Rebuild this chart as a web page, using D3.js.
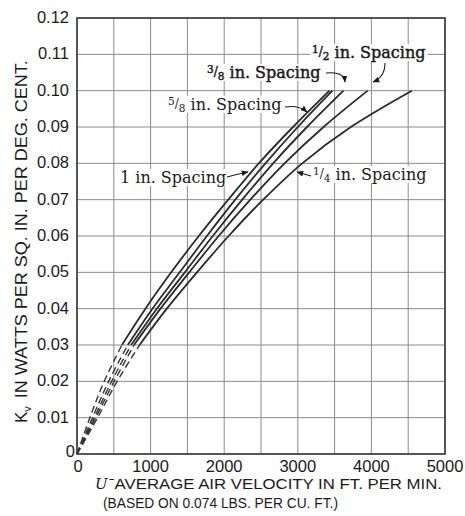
<!DOCTYPE html>
<html><head><meta charset="utf-8">
<script src="https://cdn.jsdelivr.net/npm/d3@7"></script>
<style>body{margin:0;background:#fff}svg{display:block}</style>
</head><body>
<svg id="c" width="465" height="516"></svg>
<script>
// ---- data ----
const kLevels = [0, 0.01, 0.02, 0.03, 0.04, 0.05, 0.06, 0.07, 0.08, 0.09, 0.10];
const vel1in  = [0, 175, 370, 610, 930, 1280, 1655, 2055, 2470, 2935, 3430];
const vel5_8  = [0, 210, 430, 690, 1025, 1395, 1765, 2150, 2560, 3000, 3470];
const vel3_8  = [0, 235, 470, 735, 1085, 1465, 1845, 2245, 2665, 3125, 3620];
const vel1_2  = [0, 255, 505, 775, 1135, 1525, 1925, 2355, 2820, 3350, 3950];
const vel1_4  = [0, 280, 545, 850, 1220, 1630, 2060, 2530, 3060, 3720, 4550];
const dashedUpTo = 0.03;
const xTickValues = [0, 1000, 2000, 3000, 4000, 5000];
const yTickValues = [0, 0.01, 0.02, 0.03, 0.04, 0.05, 0.06, 0.07, 0.08, 0.09, 0.10, 0.11, 0.12];
const yTickLabels = ["0", "0.01", "0.02", "0.03", "0.04", "0.05", "0.06", "0.07", "0.08", "0.09", "0.10", "0.11", "0.12"];
const seriesNames = ["1 in.", "5/8 in.", "3/8 in.", "1/2 in.", "1/4 in."];
const xTitle1 = "ˉAVERAGE AIR VELOCITY IN FT. PER MIN.";
const xTitle2 = "(BASED ON 0.074 LBS. PER CU. FT.)";
const yTitle = "IN WATTS PER SQ. IN. PER DEG. CENT.";

const svg = d3.select("#c");
const x = d3.scaleLinear().domain([0, 5000]).range([77, 445]);
const y = d3.scaleLinear().domain([0, 0.12]).range([454, 18]);

// grid
const grid = svg.append("g");
grid.selectAll("line.v").data(d3.range(0, 5001, 500)).enter().append("line")
  .attr("x1", d => x(d)).attr("x2", d => x(d)).attr("y1", y(0)).attr("y2", y(0.12))
  .attr("stroke", "#8a8a8a").attr("stroke-width", 1);
grid.selectAll("line.h").data(d3.range(0, 13).map(i => i * 0.01)).enter().append("line")
  .attr("y1", d => y(d)).attr("y2", d => y(d)).attr("x1", x(0)).attr("x2", x(5000))
  .attr("stroke", "#8a8a8a").attr("stroke-width", 1);
svg.append("rect").attr("x", x(0)).attr("y", y(0.12)).attr("width", x(5000) - x(0)).attr("height", y(0) - y(0.12))
  .attr("fill", "none").attr("stroke", "#3a3a3a").attr("stroke-width", 1.6);

// curves
const allSeries = [vel1in, vel5_8, vel3_8, vel1_2, vel1_4];
const line = d3.line().x(d => x(d[0])).y(d => y(d[1])).curve(d3.curveCatmullRom.alpha(0.5));
const curves = svg.append("g");
allSeries.forEach(v => {
  const pts = v.map((vv, i) => [vv, kLevels[i]]);
  const dashed = pts.filter(p => p[1] <= dashedUpTo + 1e-9);
  const solid = pts.filter(p => p[1] >= dashedUpTo - 1e-9);
  curves.append("path").attr("d", line(dashed)).attr("fill", "none")
    .attr("stroke", "#333").attr("stroke-width", 1.4).attr("stroke-dasharray", "7,4");
  curves.append("path").attr("d", line(solid)).attr("fill", "none")
    .attr("stroke", "#2a2a2a").attr("stroke-width", 1.8);
});

// tick labels
const tickFont = "'Liberation Sans', Arial, sans-serif";
svg.append("g").selectAll("text").data(xTickValues).enter().append("text")
  .attr("x", d => x(d) + (d === 0 ? 1 : 0)).attr("y", 472).attr("text-anchor", "middle")
  .attr("font-family", tickFont).attr("font-size", 16.5).attr("fill", "#1a1a1a").text(d => d);
svg.append("g").selectAll("text").data(yTickValues).enter().append("text")
  .attr("x", d => d === 0 ? 75 : 69).attr("y", (d, i) => y(d) + (d === 0 ? 3 : 5)).attr("text-anchor", "end")
  .attr("font-family", tickFont).attr("font-size", 16.5).attr("fill", "#1a1a1a").text((d, i) => yTickLabels[i]);

// axis titles
svg.append("text").attr("x", 95).attr("y", 489).attr("font-family", "'DejaVu Serif', serif")
  .attr("font-style", "italic").attr("font-size", 15).attr("fill", "#1a1a1a").text("U");
svg.append("text").attr("x", 109).attr("y", 489).attr("font-family", tickFont)
  .attr("font-size", 15).attr("fill", "#1a1a1a")
  .attr("textLength", 333).attr("lengthAdjust", "spacingAndGlyphs").text(xTitle1);
svg.append("text").attr("x", 103).attr("y", 508).attr("font-family", tickFont)
  .attr("font-size", 15).attr("fill", "#1a1a1a")
  .attr("textLength", 235).attr("lengthAdjust", "spacingAndGlyphs").text(xTitle2);

const yt = svg.append("text").attr("transform", "translate(27,423) rotate(-90)")
  .attr("font-family", tickFont).attr("font-size", 17).attr("fill", "#1a1a1a");
yt.append("tspan").text("K");
yt.append("tspan").attr("font-size", 11).attr("dy", 4).text("v");
yt.append("tspan").attr("dy", -4).attr("dx", 8).text(yTitle)
  .attr("textLength", 338).attr("lengthAdjust", "spacingAndGlyphs");

// annotations
svg.append("defs").append("marker").attr("id", "ah").attr("viewBox", "0 0 10 10")
  .attr("refX", 9).attr("refY", 5).attr("markerWidth", 7).attr("markerHeight", 7)
  .attr("orient", "auto").attr("markerUnits", "userSpaceOnUse")
  .append("path").attr("d", "M0,1 L10,5 L0,9 Z").attr("fill", "#1a1a1a");

const labels = [
  {name: seriesNames[0], num: null, den: null, x: 120, yb: 183, bold: false, arrow: "M227,177 Q238,174 248,172"},
  {name: seriesNames[1], num: "5", den: "8", x: 168, yb: 110, bold: false, arrow: "M285,107 Q299,105 307,112"},
  {name: seriesNames[2], num: "3", den: "8", x: 207, yb: 78, bold: true, arrow: "M326,73 Q344,71 345,82"},
  {name: seriesNames[3], num: "1", den: "2", x: 312, yb: 58, bold: true, arrow: "M385,63 Q385,77 373,82"},
  {name: seriesNames[4], num: "1", den: "4", x: 313, yb: 180, bold: false, arrow: "M311,176 L297,172"}
];
const annG = svg.append("g");
labels.forEach(l => {
  const g = annG.append("g");
  const t = g.append("text").attr("x", l.x).attr("y", l.yb)
    .attr("font-family", "'DejaVu Serif', serif").attr("font-size", 16).attr("fill", "#1a1a1a");
  if (l.bold) t.attr("stroke", "#1a1a1a").attr("stroke-width", 0.45);
  if (l.num) {
    t.append("tspan").attr("font-size", 10.5).attr("dy", -5).text(l.num);
    t.append("tspan").attr("font-size", 12).attr("dy", 3).text("/");
    t.append("tspan").attr("font-size", 10.5).attr("dy", 4).text(l.den);
    t.append("tspan").attr("dy", -2).text(" in. Spacing");
  } else {
    t.append("tspan").text(l.name + " Spacing");
  }
  const bb = t.node().getBBox();
  g.insert("rect", "text").attr("x", bb.x - 2).attr("y", bb.y + 1).attr("width", bb.width + 4)
    .attr("height", bb.height - 2).attr("fill", "#fff");
  annG.append("path").attr("d", l.arrow).attr("fill", "none").attr("stroke", "#1a1a1a")
    .attr("stroke-width", 1.1).attr("marker-end", "url(#ah)");
});
</script>
</body></html>
